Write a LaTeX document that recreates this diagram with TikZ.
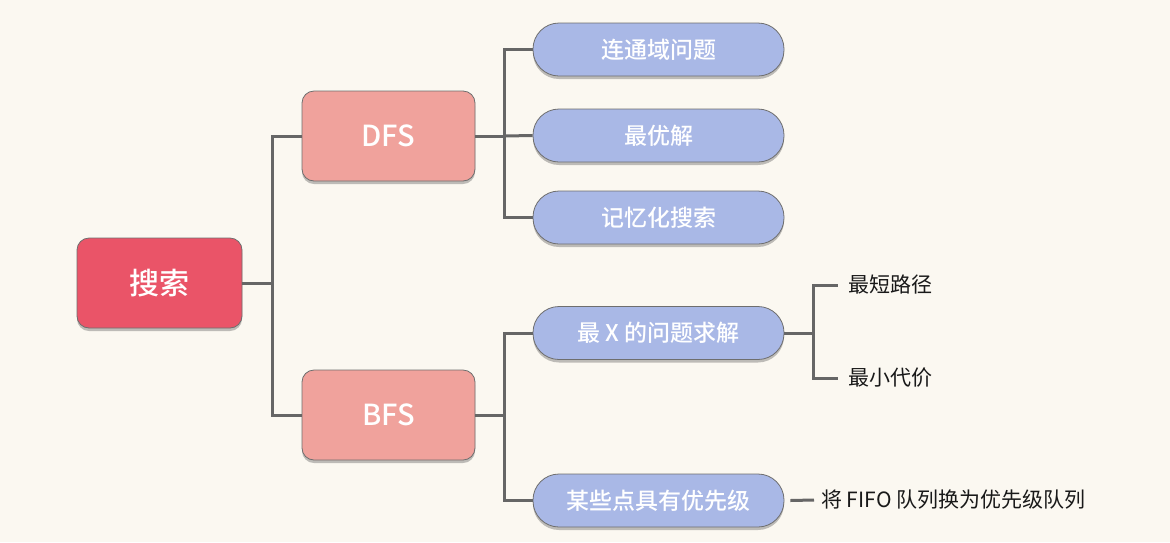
\documentclass[tikz,border=0pt]{standalone}
\usepackage{fontspec}
\setmainfont{Noto Sans CJK SC}
\newfontfamily\medfont{Noto Sans CJK SC Medium}
\usetikzlibrary{shadows}
\definecolor{bgc}{HTML}{FBF8F1}
\definecolor{rootc}{HTML}{EA5468}
\definecolor{salmon}{HTML}{F0A29C}
\definecolor{pillc}{HTML}{A9B8E6}
\definecolor{linec}{HTML}{666666}
\definecolor{borderc}{HTML}{6E6E6E}
\tikzset{
  boxshadow/.style={drop shadow={shadow xshift=0pt,shadow yshift=-3pt,opacity=0.35,fill=black!70}},
  rootbox/.style={draw=borderc,line width=0.8pt,fill=rootc,rounded corners=12pt,minimum width=165pt,minimum height=90pt,text=white,font=\fontsize{30}{34}\selectfont\medfont,boxshadow},
  midbox/.style={draw=borderc,line width=0.8pt,fill=salmon,rounded corners=12pt,minimum width=173pt,minimum height=90pt,text=white,font=\fontsize{29}{33}\selectfont\medfont,boxshadow},
  pill/.style={draw=borderc,line width=0.8pt,fill=pillc,rounded corners=26pt,minimum width=251pt,minimum height=53pt,text=white,font=\fontsize{23}{27}\selectfont\medfont,boxshadow},
  leaf/.style={anchor=west,inner xsep=10pt,inner ysep=2pt,text=black!90,font=\fontsize{21}{25}\selectfont},
  conn/.style={draw=linec,line width=3pt}
}
\begin{document}
\begin{tikzpicture}[x=1pt,y=-1pt]
\fill[bgc] (0,0) rectangle (1170,542);
\useasboundingbox (0,0) rectangle (1170,542);
\node[rootbox] (root) at (159.5,283) {搜索};
\node[midbox] (dfs) at (388.5,136) {DFS};
\node[midbox] (bfs) at (388.5,415) {BFS};
\node[pill] (p1) at (658.5,49.5) {连通域问题};
\node[pill] (p2) at (658.5,135.5) {最优解};
\node[pill] (p3) at (658.5,217.5) {记忆化搜索};
\node[pill] (p4) at (658.5,333) {最 X 的问题求解};
\node[pill] (p5) at (658.5,500.5) {某些点具有优先级};
\node[leaf] (l1) at (838,285) {最短路径};
\node[leaf] (l2) at (838,378) {最小代价};
\node[leaf,inner xsep=7pt] (l3) at (814,500) {将 FIFO 队列换为优先级队列};
\draw[conn] (root.east) -- ++(30,0) coordinate (j0) |- (dfs.west);
\draw[conn] (j0) |- (bfs.west);
\draw[conn] (dfs.east) -- ++(29,0) coordinate (j1) |- (p1.west);
\draw[conn] (j1) |- (p3.west);
\draw[conn] (j1) -- (p2.west);
\draw[conn] (bfs.east) -- ++(29,0) coordinate (j2) |- (p4.west);
\draw[conn] (j2) |- (p5.west);
\draw[conn] (p4.east) -- ++(29,0) coordinate (j3) |- (l1.west);
\draw[conn] (j3) |- (l2.west);
\draw[conn] (p5.east) ++(6,0) -- (l3.west);
\end{tikzpicture}
\end{document}
